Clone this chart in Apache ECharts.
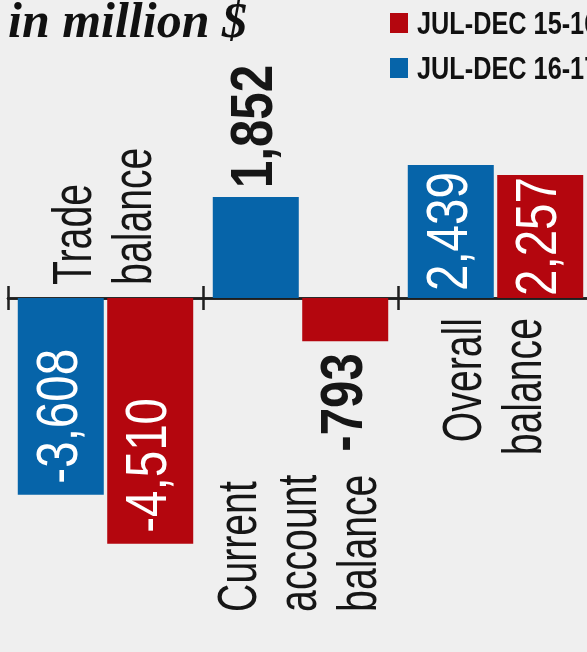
<!DOCTYPE html>
<html>
<head>
<meta charset="utf-8">
<script src="https://cdn.jsdelivr.net/npm/echarts/dist/echarts.min.js"></script>
<style>
  html, body { margin: 0; padding: 0; background: #efefef; }
  #chart { width: 587px; height: 652px; }
</style>
</head>
<body>
<div id="chart"></div>
<script>
// ---------------- data ----------------
const TITLE = 'in million $';
const CATEGORIES = ['Trade balance', 'Current account balance', 'Overall balance'];
const CATEGORY_LINES = ['Trade\nbalance', 'Current\naccount\nbalance', 'Overall\nbalance'];
const SERIES_16_17 = 'JUL-DEC 16-17';
const SERIES_15_16 = 'JUL-DEC 15-16';
const VALUES_16_17 = [-3608, 1852, 2439];
const VALUES_15_16 = [-4510, -793, 2257];
const LEGEND_ORDER = [SERIES_15_16, SERIES_16_17];

// ---------------- style ----------------
const BLUE = '#0664a9';
const RED = '#b4060e';
const INK = '#161616';
const BAR_WIDTH = 86;
const BAR_GAP_RATIO = 0.04;
const NUM_SCALE = 0.82;
const CAT_SCALE = 0.70;
const LEGEND_SCALE = 0.79;
const FONT_INSIDE = '58px "Liberation Sans", Arial, sans-serif';
const FONT_OUTSIDE = 'bold 60px "Liberation Sans", Arial, sans-serif';
const FONT_CAT = '56px "Liberation Sans", Arial, sans-serif';
const FONT_LEGEND = 'bold 32px "Liberation Sans", Arial, sans-serif';

const measureCtx = document.createElement('canvas').getContext('2d');
function textWidth(text, font) { measureCtx.font = font; return measureCtx.measureText(text).width; }
function fmt(v) { return v.toLocaleString('en-US'); }

const chart = echarts.init(document.getElementById('chart'), null, { renderer: 'canvas' });

const seriesValues = [VALUES_16_17, VALUES_15_16];
const valueLabelData = [];
seriesValues.forEach((arr, s) => arr.forEach((v, i) => valueLabelData.push([i, v, s])));

function renderValueLabel(params, api) {
  const cat = api.value(0), v = api.value(1), s = api.value(2);
  const end = api.coord([cat, v]);
  const zero = api.coord([cat, 0]);
  const slot = BAR_WIDTH * (1 + BAR_GAP_RATIO);
  const x = end[0] + (s === 0 ? -1 : 1) * slot / 2;
  const text = fmt(v);
  const up = v >= 0;
  const barLen = Math.abs(zero[1] - end[1]);
  const inLen = textWidth(text, FONT_INSIDE) * NUM_SCALE;
  let y, align, fill, font;
  if (barLen > inLen + 2) {
    const m = Math.min(11, (barLen - inLen) / 2);
    y = up ? end[1] + m : end[1] - m;
    align = up ? 'right' : 'left';
    fill = '#ffffff';
    font = FONT_INSIDE;
  } else {
    y = up ? end[1] - 9 : end[1] + 12;
    align = up ? 'left' : 'right';
    fill = INK;
    font = FONT_OUTSIDE;
  }
  return {
    type: 'text', x: x, y: y, rotation: Math.PI / 2, scaleX: NUM_SCALE, scaleY: 1,
    style: { text: text, fill: fill, font: font, align: align, verticalAlign: 'middle' }
  };
}

// placement of category captions (y value where each caption starts / ends)
const CAT_LABEL_PLACE = [
  { at: 240, align: 'left' },
  { at: -5760, align: 'left' },
  { at: -367, align: 'right' }
];

function renderCatLabel(params, api) {
  const i = params.dataIndex;
  const p = api.coord([api.value(0), api.value(1)]);
  return {
    type: 'text', x: p[0], y: p[1], rotation: Math.PI / 2, scaleX: CAT_SCALE, scaleY: 1,
    style: {
      text: CATEGORY_LINES[i], fill: INK, font: FONT_CAT, lineHeight: 60,
      align: CAT_LABEL_PLACE[i].align, verticalAlign: 'middle'
    }
  };
}

const axisStyle = { color: '#1e1e1e', width: 2.5 };
const gridBox = { left: 8, right: -6, top: 134.5, bottom: 27, outerBoundsMode: 'none', containLabel: false };
const Y_MIN = -6000, Y_MAX = 3000;

// legend captions (condensed)
const LEGEND_LEFT = 390, LEGEND_TOP = 13, ICON_W = 18, ICON_H = 20, LEGEND_GAP = 25;
const legendTexts = LEGEND_ORDER.map((name, k) => ({
  type: 'text',
  x: LEGEND_LEFT + ICON_W + 9,
  y: LEGEND_TOP + ICON_H / 2 + 2 + k * (ICON_H + LEGEND_GAP),
  scaleX: LEGEND_SCALE, scaleY: 1, silent: true,
  style: { text: name, font: FONT_LEGEND, fill: '#111', align: 'left', verticalAlign: 'middle' }
}));

const option = {
  backgroundColor: '#efefef',
  animation: false,
  title: {
    text: TITLE, left: 8, top: -1, padding: 0,
    textStyle: { fontFamily: '"Liberation Serif", serif', fontStyle: 'italic', fontWeight: 'bold', fontSize: 50, color: '#111' }
  },
  legend: {
    data: LEGEND_ORDER, orient: 'vertical', left: LEGEND_LEFT, top: LEGEND_TOP, padding: 0,
    itemWidth: ICON_W, itemHeight: ICON_H, itemGap: LEGEND_GAP, icon: 'rect',
    formatter: () => '', textStyle: { fontSize: 1 }
  },
  graphic: legendTexts,
  grid: [Object.assign({}, gridBox), Object.assign({}, gridBox)],
  xAxis: [
    {
      type: 'category', data: CATEGORIES, gridIndex: 0, position: 'bottom',
      axisLine: { show: true, onZero: true, lineStyle: axisStyle },
      axisTick: { show: true, length: 12, lineStyle: axisStyle },
      axisLabel: { show: false }, splitLine: { show: false }
    },
    {
      type: 'category', data: CATEGORIES, gridIndex: 1, position: 'bottom',
      axisLine: { show: true, onZero: true, lineStyle: axisStyle },
      axisTick: { show: true, inside: true, length: 12, lineStyle: axisStyle },
      axisLabel: { show: false }, splitLine: { show: false }
    }
  ],
  yAxis: [
    { type: 'value', gridIndex: 0, min: Y_MIN, max: Y_MAX, show: false, splitLine: { show: false } },
    { type: 'value', gridIndex: 1, min: Y_MIN, max: Y_MAX, show: false, splitLine: { show: false } }
  ],
  series: [
    {
      name: SERIES_16_17, type: 'bar', data: VALUES_16_17,
      barWidth: BAR_WIDTH, barGap: (BAR_GAP_RATIO * 100) + '%',
      itemStyle: { color: BLUE }, label: { show: false }
    },
    {
      name: SERIES_15_16, type: 'bar', data: VALUES_15_16,
      barWidth: BAR_WIDTH, barGap: (BAR_GAP_RATIO * 100) + '%',
      itemStyle: { color: RED }, label: { show: false }
    },
    {
      type: 'custom', coordinateSystem: 'cartesian2d', silent: true, z: 10, clip: false,
      data: valueLabelData, renderItem: renderValueLabel
    },
    {
      type: 'custom', coordinateSystem: 'cartesian2d', silent: true, z: 10, clip: false,
      data: CATEGORY_LINES.map((t, i) => [i, CAT_LABEL_PLACE[i].at]), renderItem: renderCatLabel
    }
  ]
};

chart.setOption(option);
</script>
</body>
</html>
